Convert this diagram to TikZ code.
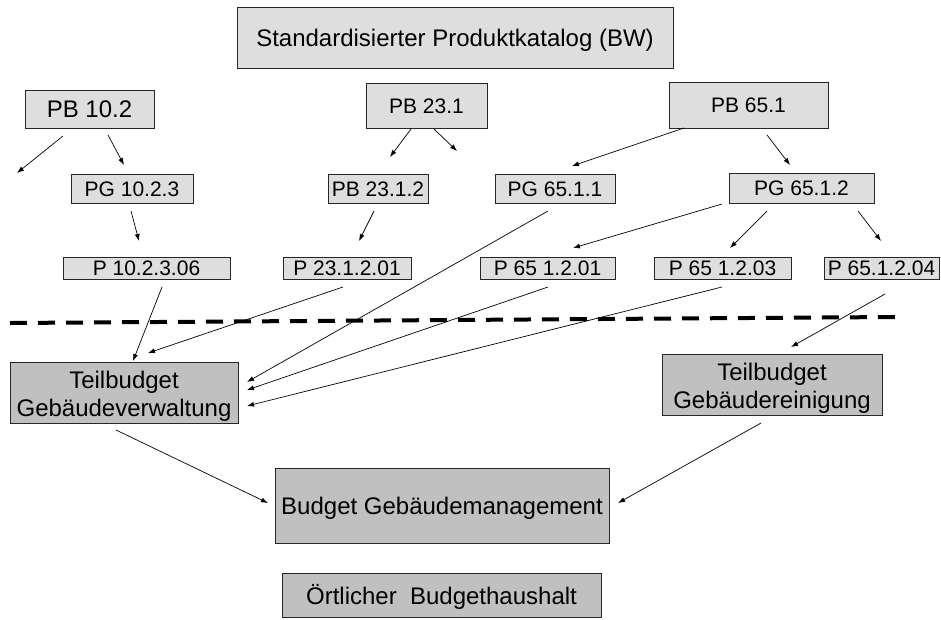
\documentclass[tikz,border=0pt]{standalone}
\usepackage{fontspec}
\setmainfont{Liberation Sans}
\usetikzlibrary{calc,arrows.meta}

\definecolor{lightbox}{HTML}{DEDEDE}
\definecolor{darkbox}{HTML}{C0C0C0}

\begin{document}
\begin{tikzpicture}[x=1pt,y=-1pt,
  box/.style={draw=black!85, line width=0.8pt, inner sep=0pt, align=center},
  light/.style={box, fill=lightbox},
  dark/.style={box, fill=darkbox},
  big/.style={font=\fontsize{24}{28}\selectfont},
  bigline/.style={big, text height=17.2pt, text depth=0pt},
  small/.style={font=\fontsize{21}{24}\selectfont, text height=15pt, text depth=0pt},
  arr/.style={line width=0.7pt, -{Latex[length=7pt,width=5pt]}},
  sep/.style={line width=4pt, dash pattern=on 17pt off 11pt}
]
\useasboundingbox (0,0) rectangle (941,619);

% catalogue heading
\node[light,bigline,minimum width=436,minimum height=61] (cat) at (455,37.5)
  {Standardisierter Produktkatalog (BW)};

% product areas
\node[light,bigline,minimum width=129,minimum height=38] (pb102) at (89.5,109) {PB 10.2};
\node[light,small,minimum width=121,minimum height=45] (pb231) at (426.5,105.5) {PB 23.1};
\node[light,small,minimum width=159,minimum height=46] (pb651) at (748.5,105) {PB 65.1};

% product groups
\node[light,small,minimum width=122,minimum height=29] (pg1023) at (132,188.5) {PG 10.2.3};
\node[light,small,minimum width=100,minimum height=29] (pb2312) at (378,188.5) {PB 23.1.2};
\node[light,small,minimum width=120,minimum height=29] (pg6511) at (555,188.5) {PG 65.1.1};
\node[light,small,minimum width=145,minimum height=30] (pg6512) at (801.5,188) {PG 65.1.2};

% products
\node[light,small,minimum width=167,minimum height=22] (p102306) at (146.5,268) {P 10.2.3.06};
\node[light,small,minimum width=128,minimum height=22] (p231201) at (347,268) {P 23.1.2.01};
\node[light,small,minimum width=135,minimum height=22] (p651201) at (547.5,268) {P 65 1.2.01};
\node[light,small,minimum width=137,minimum height=22] (p651203) at (722.5,268) {P 65 1.2.03};
\node[light,small,minimum width=115,minimum height=22] (p651204) at (881.5,268) {P 65.1.2.04};

% budgets
\node[dark,big,minimum width=228,minimum height=61] (tgv) at (124,392.5)
  {\rule{0pt}{24pt}Teilbudget\\Gebäudeverwaltung};
\node[dark,big,minimum width=220,minimum height=61] (tgr) at (772,384.5)
  {\rule{0pt}{24pt}Teilbudget\\Gebäudereinigung};
\node[dark,bigline,minimum width=334,minimum height=75] (bgm) at (442,505.5)
  {Budget Gebäudemanagement};
\node[dark,bigline,minimum width=319,minimum height=44] (ort) at (441.5,595.5)
  {Örtlicher~~Budgethaushalt};

% open ends of branches not shown further
\coordinate (lost1) at (17,173);
\coordinate (lost2) at (457,151);

% separator between catalogue and budgets
\draw[sep] (10,323) -- (895,317);

% catalogue hierarchy
\draw[arr] ($(pb102)+(-26.5,27)$) -- (lost1);
\draw[arr] ($(pb102)+(18.5,26)$) -- ($(pg1023)+(-8,-23.5)$);
\draw[arr] ($(pg1023)+(-1,22.5)$) -- ($(p102306)+(-7.5,-27)$);
\draw[arr] ($(pb231)+(-15.5,23.5)$) -- ($(pb2312)+(12,-31.5)$);
\draw[arr] ($(pb231)+(7.5,23.5)$) -- (lost2);
\draw[arr] ($(pb2312)+(-4,22.5)$) -- ($(p231201)+(12,-27)$);
\draw[arr] ($(pb651)+(-64.5,23)$) -- ($(pg6511)+(17,-22.5)$);
\draw[arr] ($(pb651)+(18.5,30)$) -- ($(pg6512)+(-11.5,-23)$);
\draw[arr] ($(pg6512)+(-79.5,16)$) -- ($(p651201)+(25.5,-20)$);
\draw[arr] ($(pg6512)+(-34.5,23)$) -- ($(p651203)+(7.5,-20)$);
\draw[arr] ($(pg6512)+(56.5,23)$) -- ($(p651204)+(-0.5,-27)$);

% allocation to partial budgets
\draw[arr] ($(p102306)+(15.5,19)$) -- ($(tgv)+(9,-31.5)$);
\draw[arr] ($(p231201)+(-4,19)$) -- ($(tgv)+(24,-39.5)$);
\draw[arr] ($(pg6511)+(-7,22.5)$) -- ($(tgv)+(123,-10.5)$);
\draw[arr] ($(p651201)+(0.5,19)$) -- ($(tgv)+(123,-2.5)$);
\draw[arr] ($(p651203)+(-0.5,19)$) -- ($(tgv)+(123,13.5)$);
\draw[arr] ($(p651204)+(3.5,26)$) -- ($(tgr)+(19,-37.5)$);

% partial budgets into the overall budget
\draw[arr] ($(tgv)+(-8,37.5)$) -- ($(bgm)+(-174,-2.5)$);
\draw[arr] ($(tgr)+(-11,38.5)$) -- ($(bgm)+(176,-2.5)$);
\end{tikzpicture}
\end{document}
